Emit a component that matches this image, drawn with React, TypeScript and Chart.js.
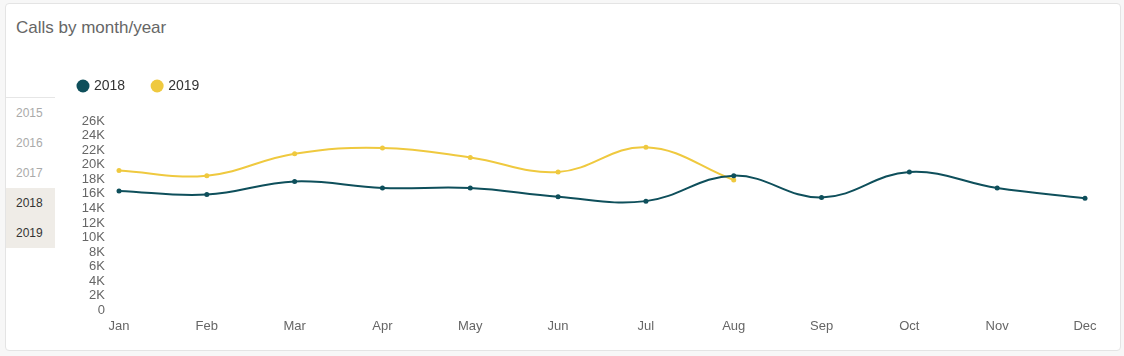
import React, { useEffect, useRef } from "react";
import { Chart, registerables } from "chart.js";

Chart.register(...registerables);

const months = ["Jan", "Feb", "Mar", "Apr", "May", "Jun", "Jul", "Aug", "Sep", "Oct", "Nov", "Dec"];
const calls2018 = [16400, 15900, 17700, 16800, 16800, 15600, 15000, 18500, 15500, 19000, 16800, 15400];
const calls2019 = [19200, 18500, 21500, 22300, 21000, 19000, 22400, 17900];
const years = ["2015", "2016", "2017", "2018", "2019"];
const selectedYears = ["2018", "2019"];
const yMax = 26000;
const yStep = 2000;

const FONT = "Helvetica, Arial, 'Liberation Sans', sans-serif";
const TEAL = "#0e4f5b";
const YELLOW = "#efc93f";

const legendSpacer = {
  id: "legendSpacer",
  beforeInit(chart: any) {
    const legend = chart.legend;
    if (!legend) return;
    const orig = legend.fit;
    legend.fit = function () {
      orig.call(this);
      this.height += 18;
    };
  },
};

export default function App() {
  const ref = useRef<HTMLCanvasElement | null>(null);

  useEffect(() => {
    document.body.style.margin = "0";
    const ctx = ref.current;
    if (!ctx) return;
    const chart = new Chart(ctx, {
      type: "line",
      data: {
        labels: months,
        datasets: [
          {
            label: "2018",
            data: calls2018,
            borderColor: TEAL,
            backgroundColor: TEAL,
            pointBackgroundColor: TEAL,
            pointBorderColor: TEAL,
            borderWidth: 2,
            pointRadius: 2.5,
            pointBorderWidth: 0,
            tension: 0.4,
            fill: false,
          },
          {
            label: "2019",
            data: calls2019,
            borderColor: YELLOW,
            backgroundColor: YELLOW,
            pointBackgroundColor: YELLOW,
            pointBorderColor: YELLOW,
            borderWidth: 2,
            pointRadius: 2.5,
            pointBorderWidth: 0,
            tension: 0.4,
            fill: false,
          },
        ],
      },
      options: {
        responsive: false,
        animation: false,
        layout: { padding: { left: 0, right: 25, top: 0, bottom: 0 } },
        plugins: {
          tooltip: { enabled: false },
          legend: {
            display: true,
            position: "top",
            align: "start",
            labels: {
              usePointStyle: true,
              pointStyle: "circle",
              boxWidth: 8,
              boxHeight: 9.2,
              padding: 28,
              color: "#333",
              font: { family: FONT, size: 14 },
            },
          },
        },
        scales: {
          x: {
            grid: { display: false, drawTicks: false },
            border: { display: false },
            ticks: {
              color: "#666",
              font: { family: FONT, size: 13 },
              padding: 8,
              maxRotation: 0,
              autoSkip: false,
            },
          },
          y: {
            min: 0,
            max: yMax,
            grid: { display: false, drawTicks: false },
            border: { display: false },
            afterFit(scale: any) {
              scale.width = 68;
            },
            ticks: {
              stepSize: yStep,
              autoSkip: false,
              color: "#666",
              font: { family: FONT, size: 13 },
              padding: 14,
              callback: (v: any) => (Number(v) === 0 ? "0" : Number(v) / 1000 + "K"),
            },
          },
        },
      },
      plugins: [legendSpacer],
    });
    return () => chart.destroy();
  }, []);

  return (
    <div
      style={{
        position: "fixed",
        left: 0,
        top: 0,
        width: 1124,
        height: 356,
        background: "#f7f7f7",
        fontFamily: FONT,
        overflow: "hidden",
      }}
    >
      <div
        style={{
          position: "absolute",
          left: 5,
          top: 3,
          width: 1114,
          height: 346,
          border: "1px solid #e4e4e4",
          borderRadius: 4,
          background: "#fff",
        }}
      />
      <div
        style={{
          position: "absolute",
          left: 16,
          top: 18,
          fontSize: 17,
          lineHeight: "20px",
          color: "#666",
        }}
      >
        Calls by month/year
      </div>
      <div
        style={{
          position: "absolute",
          left: 6,
          top: 97,
          width: 49,
          borderTop: "1px solid #e6e6e6",
        }}
      >
        {years.map((y) => {
          const sel = selectedYears.includes(y);
          return (
            <div
              key={y}
              style={{
                height: 30,
                lineHeight: "30px",
                paddingLeft: 10,
                fontSize: 12,
                color: sel ? "#333" : "#aaa",
                background: sel ? "#efece7" : "transparent",
              }}
            >
              {y}
            </div>
          );
        })}
      </div>
      <canvas
        ref={ref}
        width={1059}
        height={291}
        style={{ position: "absolute", left: 51, top: 51, width: 1059, height: 291 }}
      />
    </div>
  );
}
